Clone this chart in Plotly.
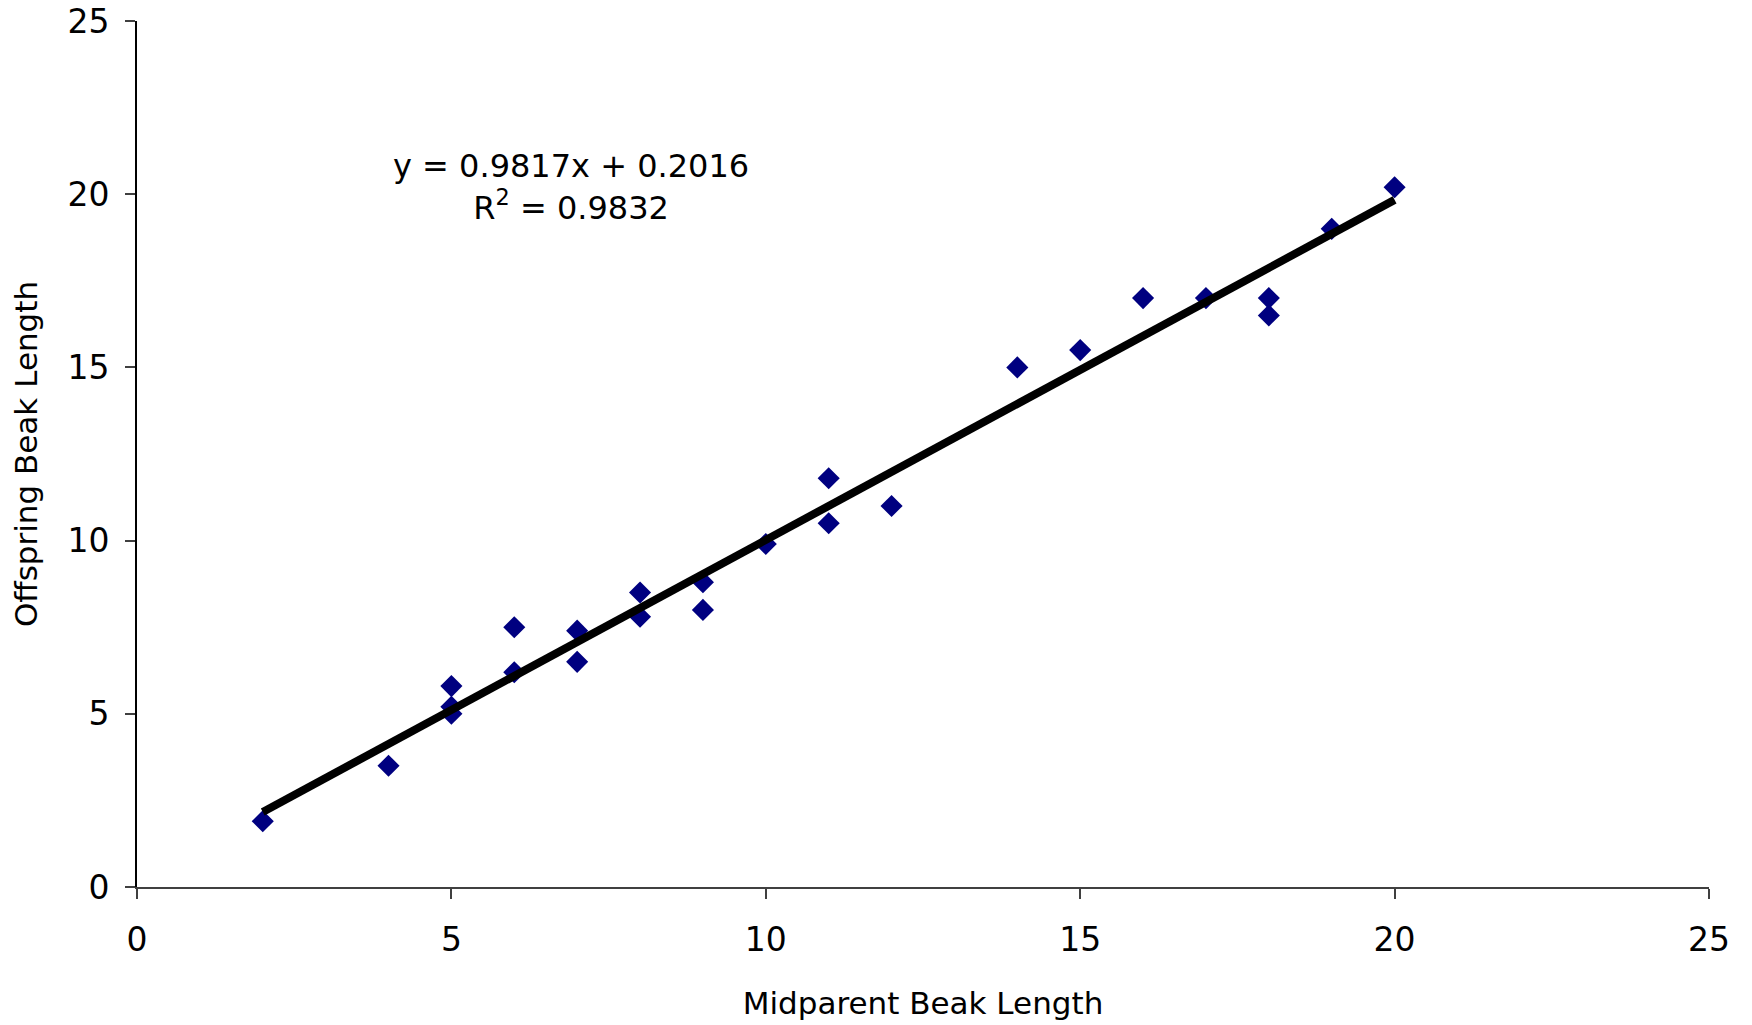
import plotly.graph_objects as go

# Data
midparent = [2, 4, 5, 5, 5, 6, 6, 7, 7, 8, 8, 9, 9, 10, 11, 11, 12, 14, 15, 16, 17, 18, 18, 19, 20]
offspring = [1.9, 3.5, 5.8, 5.2, 5.0, 7.5, 6.2, 7.4, 6.5, 8.5, 7.8, 8.8, 8.0, 9.9, 11.8, 10.5, 11.0,
             15.0, 15.5, 17.0, 17.0, 17.0, 16.5, 19.0, 20.2]

slope = 0.9817
intercept = 0.2016
r_squared = 0.9832

axis_ticks = [0, 5, 10, 15, 20, 25]

FONT = "DejaVu Sans, Verdana, sans-serif"

trend_x = [min(midparent), max(midparent)]
trend_y = [slope * v + intercept for v in trend_x]

fig = go.Figure()
fig.add_trace(go.Scatter(
    x=midparent, y=offspring, mode="markers",
    marker=dict(symbol="diamond", size=17, color="#000080"),
    showlegend=False, cliponaxis=False,
))
fig.add_trace(go.Scatter(
    x=trend_x, y=trend_y, mode="lines",
    line=dict(color="black", width=8),
    showlegend=False, cliponaxis=False,
))

fig.add_annotation(
    x=6.9, y=20.2, xref="x", yref="y",
    text=f"y = {slope}x + {intercept}<br>R<sup>2</sup> = {r_squared}",
    showarrow=False, align="center",
    font=dict(family=FONT, size=32, color="black"),
)

fig.update_layout(
    width=1752, height=1025,
    margin=dict(l=129, r=51, t=13, b=146),
    paper_bgcolor="white", plot_bgcolor="white",
    font=dict(family=FONT, size=32, color="black"),
)
fig.update_xaxes(
    range=[0, 25], tickvals=axis_ticks, ticktext=[str(t) for t in axis_ticks],
    showgrid=False, zeroline=False, showline=True, linecolor="#404040", linewidth=2,
    ticks="outside", ticklen=10, tickcolor="#404040", tickwidth=2,
    ticklabelstandoff=12, automargin=False, tickfont=dict(size=33),
    ticklabeloverflow="allow",
    title=dict(text="Midparent Beak Length", font=dict(family=FONT, size=31), standoff=35),
)
fig.update_yaxes(
    range=[0, 25], tickvals=axis_ticks, ticktext=[str(t) for t in axis_ticks],
    showgrid=False, zeroline=False, showline=True, linecolor="black", linewidth=2,
    ticks="outside", ticklen=10, tickcolor="#404040", tickwidth=2,
    ticklabelstandoff=9, automargin=False, tickfont=dict(size=33),
    ticklabeloverflow="allow",
    title=dict(text="Offspring Beak Length", font=dict(family=FONT, size=31), standoff=21),
)

fig.write_html("out.html")
